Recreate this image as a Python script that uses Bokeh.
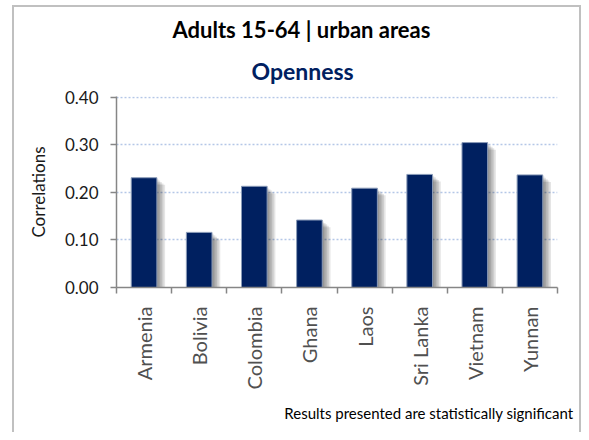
import math
from bokeh.plotting import figure
from bokeh.models import (Range1d, FixedTicker, PrintfTickFormatter, Title,
                          ColumnDataSource)
from bokeh.embed import file_html
from bokeh.resources import INLINE

# ---- data ----
countries = ["Armenia", "Bolivia", "Colombia", "Ghana", "Laos", "Sri Lanka", "Vietnam", "Yunnan"]
correlations = [0.231, 0.116, 0.213, 0.142, 0.209, 0.238, 0.305, 0.237]
y_ticks = [0.0, 0.1, 0.2, 0.3, 0.4]
title_main = "Adults 15-64 | urban areas"
title_sub = "Openness"
y_label = "Correlations"
footnote = "Results presented are statistically significant"

FONT = "Lato"
NAVY = "#002060"
BORDER = "#c0c0c0"

centers = [i + 0.5 for i in range(len(countries))]
edges = list(range(len(countries) + 1))

W, H = 581, 432
line = f"linear-gradient({BORDER},{BORDER})"
p = figure(width=W, height=H, output_backend="svg", toolbar_location=None,
           x_range=Range1d(0, len(countries)), y_range=Range1d(y_ticks[0], y_ticks[-1] + 0.002),
           min_border_left=116, min_border_right=24, min_border_top=96, min_border_bottom=145,
           styles={
               "background-image": f"{line}, {line}, {line}",
               "background-repeat": "no-repeat",
               "background-size": f"2px 100%, {W - 12}px 2px, 2px 100%",
               "background-position": f"12px 5px, 12px 5px, {W - 2}px 5px",
           })
p.title = None
p.outline_line_color = None
p.background_fill_color = "white"
p.border_fill_color = None

# bar shadows (soft, offset to the lower right)
src = ColumnDataSource(dict(x=centers, top=correlations))
BAR_W = 0.465
for dx, dy in [(0.03, 0.003), (0.06, 0.006), (0.09, 0.009), (0.12, 0.012), (0.15, 0.015)]:
    sh = ColumnDataSource(dict(x=[c + dx for c in centers], top=[v - dy for v in correlations]))
    p.vbar(x="x", top="top", bottom=0, width=BAR_W, source=sh,
           fill_color="black", fill_alpha=0.10, line_color=None)

p.vbar(x="x", top="top", bottom=0, width=BAR_W, source=src,
       fill_color=NAVY, line_color="#8a9bb8", line_width=1)

# grid
p.xgrid.grid_line_color = None
p.ygrid.ticker = FixedTicker(ticks=y_ticks)
p.ygrid.grid_line_color = "#b4c7e7"
p.ygrid.grid_line_width = 1.5
p.ygrid.grid_line_dash = "2 2"

# y axis
ya = p.yaxis[0]
ya.ticker = FixedTicker(ticks=y_ticks)
ya.formatter = PrintfTickFormatter(format="%.2f")
ya.axis_line_color = "#868686"
ya.axis_line_width = 1.5
ya.major_tick_line_color = "#868686"
ya.major_tick_line_width = 1.5
ya.major_tick_in = 0
ya.major_tick_out = 6
ya.minor_tick_line_color = None
ya.major_label_text_font = FONT
ya.major_label_text_font_size = "17px"
ya.major_label_text_color = "#1a1a1a"
ya.major_label_standoff = 12
ya.axis_label = y_label
ya.axis_label_text_font = FONT
ya.axis_label_text_font_size = "17px"
ya.axis_label_text_font_style = "normal"
ya.axis_label_text_color = "#1a1a1a"
ya.axis_label_standoff = 13

# x axis: labels at category centres, tick marks between categories
xa = p.xaxis[0]
xa.ticker = FixedTicker(ticks=centers, minor_ticks=edges)
xa.major_label_overrides = {c: n for c, n in zip(centers, countries)}
xa.major_label_orientation = math.pi / 2
xa.axis_line_color = "#868686"
xa.axis_line_width = 1.5
xa.major_tick_in = 0
xa.major_tick_out = 0
xa.minor_tick_line_color = "#868686"
xa.minor_tick_line_width = 1.5
xa.minor_tick_in = 0
xa.minor_tick_out = 6
xa.major_label_text_font = FONT
xa.major_label_text_font_size = "20px"
xa.major_label_text_color = "#505050"
xa.major_label_standoff = 13

# titles and footnote
p.add_layout(Title(text=title_sub, align="left", offset=135, standoff=24,
                   text_font=FONT, text_font_style="bold", text_font_size="23px",
                   text_color=NAVY), "above")
p.add_layout(Title(text=title_main, align="left", offset=56, standoff=0,
                   text_font=FONT, text_font_style="bold", text_font_size="22px",
                   text_color="black"), "above")
p.add_layout(Title(text=footnote, align="right", offset=-16, standoff=19,
                   text_font=FONT, text_font_style="normal", text_font_size="15px",
                   text_color="black"), "below")

open("out.html", "w").write(file_html(p, INLINE))
